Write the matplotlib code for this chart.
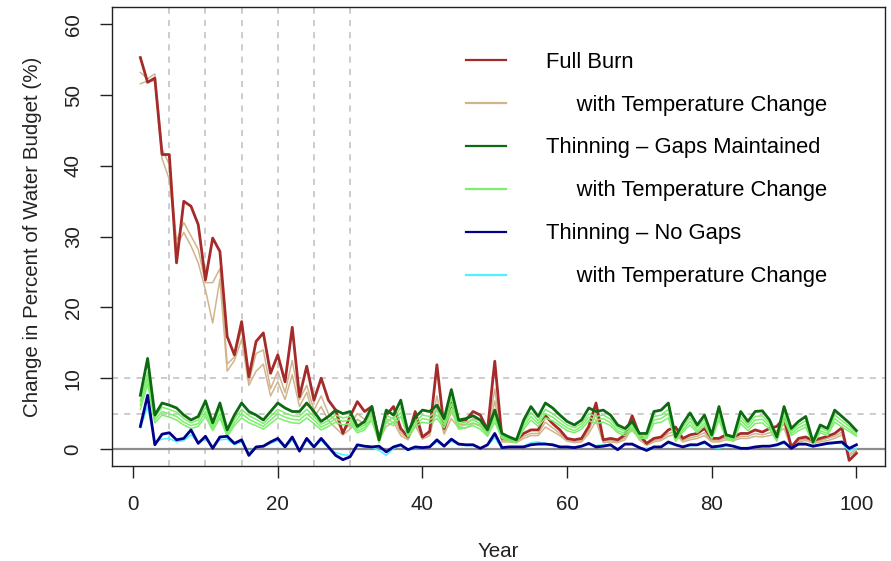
import matplotlib
matplotlib.use("Agg")
import matplotlib.pyplot as plt
from matplotlib.lines import Line2D

plt.rcParams['font.family'] = ['Liberation Sans', 'DejaVu Sans']

# anos simulados
years = list(range(1, 101))

# FULL BURN
full_burn = [55.3, 51.8, 52.4, 41.6, 41.6, 26.3, 35.0, 34.3, 31.7, 23.9,
             29.8, 27.9, 15.9, 13.3, 18.0, 10.2, 15.2, 16.4, 10.7, 13.3,
             9.5, 17.2, 7.4, 11.7, 6.9, 10.0, 6.9, 5.5, 2.2, 4.6,
             6.7, 5.3, 6.0, 1.3, 4.8, 6.0, 2.9, 1.7, 5.3, 1.7,
             2.5, 11.9, 2.9, 6.5, 4.0, 4.1, 5.3, 4.8, 2.7, 12.4,
             1.5, 1.4, 1.3, 2.2, 2.7, 2.7, 4.7, 3.6, 2.7, 1.5,
             1.3, 1.5, 3.2, 6.5, 1.3, 1.5, 1.3, 2.0, 4.7, 2.0,
             0.8, 1.5, 1.7, 2.7, 3.1, 1.5, 2.0, 2.2, 2.9, 1.5,
             1.5, 2.0, 1.7, 2.2, 2.2, 2.7, 2.4, 2.9, 3.2, 4.4,
             0.3, 1.5, 1.7, 1.2, 1.5, 1.8, 2.2, 3.0, -1.6, -0.6]

full_burn_temp1 = [53.2, 52.3, 53.0, 42.4, 40.2, 29.4, 32.0, 30.1, 28.2, 23.5,
                   23.5, 25.5, 12.0, 13.0, 17.0, 9.5, 13.5, 14.0, 8.5, 11.0,
                   8.0, 12.5, 7.0, 9.0, 5.5, 7.5, 5.0, 4.0, 2.5, 3.5,
                   5.0, 4.2, 4.8, 1.5, 3.8, 4.5, 2.3, 1.5, 4.0, 1.6,
                   2.2, 7.5, 2.5, 5.2, 3.5, 3.5, 4.3, 4.0, 2.3, 8.5,
                   1.2, 1.2, 1.0, 1.8, 2.2, 2.2, 3.8, 3.0, 2.2, 1.3,
                   1.0, 1.2, 2.6, 5.0, 1.1, 1.2, 1.0, 1.6, 3.6, 1.6,
                   0.6, 1.2, 1.4, 2.2, 2.5, 1.2, 1.6, 1.8, 2.3, 1.2,
                   1.2, 1.6, 1.4, 1.8, 1.8, 2.2, 2.0, 2.3, 2.6, 3.5,
                   0.3, 1.2, 1.4, 1.0, 1.2, 1.5, 1.8, 2.4, -1.0, -0.3]

full_burn_temp2 = [51.6, 52.0, 52.0, 41.0, 38.1, 28.7, 30.6, 28.7, 26.3, 22.5,
                   17.8, 24.0, 11.0, 12.5, 15.5, 9.0, 11.0, 12.0, 7.5, 9.5,
                   7.0, 10.5, 6.0, 8.0, 4.5, 6.0, 4.0, 3.0, 2.0, 2.8,
                   4.2, 3.5, 4.0, 1.2, 3.2, 3.8, 1.9, 1.3, 3.3, 1.4,
                   1.9, 6.0, 2.1, 4.3, 3.0, 3.0, 3.6, 3.4, 2.0, 6.8,
                   1.0, 1.0, 0.9, 1.5, 1.9, 1.9, 3.1, 2.5, 1.9, 1.1,
                   0.9, 1.0, 2.2, 4.0, 0.9, 1.0, 0.9, 1.3, 3.0, 1.3,
                   0.5, 1.0, 1.2, 1.8, 2.1, 1.0, 1.3, 1.5, 1.9, 1.0,
                   1.0, 1.3, 1.2, 1.5, 1.5, 1.8, 1.7, 1.9, 2.2, 2.9,
                   0.2, 1.0, 1.2, 0.8, 1.0, 1.2, 1.5, 2.0, -0.7, -0.1]

# THINNING - GAPS MAINTAINED
gaps = [7.6, 12.8, 4.8, 6.5, 6.2, 5.8, 4.8, 4.1, 4.6, 6.8,
        3.7, 6.5, 2.7, 4.8, 6.5, 5.3, 4.8, 4.1, 5.3, 6.5,
        5.8, 5.3, 5.3, 6.5, 5.3, 3.9, 4.6, 5.5, 5.0, 5.3,
        3.2, 3.9, 6.0, 1.3, 5.5, 4.8, 6.9, 2.4, 4.5, 5.5,
        5.3, 6.2, 4.3, 8.4, 4.1, 4.3, 4.7, 4.1, 2.7, 5.5,
        2.2, 1.7, 1.3, 4.1, 6.0, 4.6, 6.5, 5.8, 4.8, 3.9,
        3.4, 4.1, 5.8, 5.3, 5.5, 4.8, 3.4, 2.9, 3.9, 2.2,
        2.2, 5.3, 5.5, 6.5, 1.7, 3.6, 5.1, 3.4, 4.8, 2.0,
        6.0, 2.0, 1.7, 5.3, 3.9, 5.3, 5.4, 4.1, 1.7, 6.0,
        2.9, 3.9, 4.6, 1.0, 3.4, 2.9, 5.5, 4.6, 3.7, 2.6]

gaps_temp1 = [6.8, 10.8, 4.5, 5.9, 5.6, 5.2, 4.3, 3.7, 4.1, 5.9,
              3.3, 5.7, 2.4, 4.2, 5.6, 4.7, 4.2, 3.6, 4.6, 5.6,
              5.1, 4.7, 4.6, 5.6, 4.6, 3.5, 4.0, 4.8, 4.4, 4.6,
              2.9, 3.4, 5.2, 1.2, 4.8, 4.2, 5.9, 2.1, 3.9, 4.8,
              4.6, 5.4, 3.8, 7.2, 3.6, 3.8, 4.1, 3.6, 2.4, 4.8,
              1.9, 1.5, 1.2, 3.6, 5.2, 4.0, 5.6, 5.0, 4.2, 3.4,
              3.0, 3.6, 5.0, 4.6, 4.8, 4.2, 3.0, 2.5, 3.4, 1.9,
              1.9, 4.6, 4.8, 5.6, 1.5, 3.1, 4.4, 3.0, 4.2, 1.8,
              5.2, 1.8, 1.5, 4.6, 3.4, 4.6, 4.7, 3.6, 1.5, 5.2,
              2.5, 3.4, 4.0, 0.9, 3.0, 2.5, 4.8, 4.0, 3.2, 2.3]

gaps_temp2 = [6.2, 10.0, 4.1, 5.3, 5.0, 4.6, 3.8, 3.3, 3.6, 5.2,
              2.9, 5.0, 2.1, 3.7, 5.0, 4.2, 3.7, 3.2, 4.1, 5.0,
              4.5, 4.2, 4.1, 5.0, 4.1, 3.1, 3.6, 4.3, 3.9, 4.1,
              2.6, 3.0, 4.6, 1.0, 4.3, 3.7, 5.2, 1.9, 3.5, 4.3,
              4.1, 4.8, 3.4, 6.4, 3.2, 3.4, 3.7, 3.2, 2.1, 4.3,
              1.7, 1.3, 1.0, 3.2, 4.6, 3.6, 5.0, 4.5, 3.7, 3.0,
              2.6, 3.2, 4.5, 4.1, 4.3, 3.7, 2.6, 2.2, 3.0, 1.7,
              1.7, 4.1, 4.3, 5.0, 1.3, 2.7, 3.9, 2.6, 3.7, 1.6,
              4.6, 1.6, 1.3, 4.1, 3.0, 4.1, 4.2, 3.2, 1.3, 4.6,
              2.2, 3.0, 3.5, 0.8, 2.6, 2.2, 4.3, 3.5, 2.8, 2.0]

gaps_temp3 = [5.6, 9.2, 3.7, 4.8, 4.5, 4.1, 3.4, 2.9, 3.2, 4.6,
              2.6, 4.4, 1.8, 3.3, 4.4, 3.7, 3.3, 2.8, 3.6, 4.4,
              4.0, 3.7, 3.6, 4.4, 3.6, 2.7, 3.2, 3.8, 3.4, 3.6,
              2.3, 2.7, 4.1, 0.9, 3.8, 3.3, 4.6, 1.7, 3.1, 3.8,
              3.6, 4.3, 3.0, 5.6, 2.8, 3.0, 3.3, 2.8, 1.8, 3.8,
              1.5, 1.1, 0.9, 2.8, 4.1, 3.2, 4.4, 4.0, 3.3, 2.6,
              2.3, 2.8, 4.0, 3.6, 3.8, 3.3, 2.3, 1.9, 2.6, 1.5,
              1.5, 3.6, 3.8, 4.4, 1.1, 2.4, 3.4, 2.3, 3.3, 1.4,
              4.1, 1.4, 1.1, 3.6, 2.6, 3.6, 3.7, 2.8, 1.1, 4.1,
              1.9, 2.6, 3.1, 0.7, 2.3, 1.9, 3.8, 3.1, 2.5, 1.8]

# THINNING - NO GAPS
nogaps = [3.2, 7.6, 0.6, 2.1, 2.3, 1.3, 1.5, 2.7, 0.8, 1.8,
          0.1, 1.7, 1.8, 0.8, 1.3, -0.9, 0.3, 0.4, 1.0, 1.5,
          0.3, 1.7, -0.3, 1.5, 0.3, 1.5, 0.3, -0.9, -1.5, -1.1,
          0.6, 0.4, 0.3, 0.4, -0.4, 0.3, 0.6, -0.1, 0.3, 0.2,
          0.3, 1.3, 0.4, 1.4, 0.7, 0.6, 0.6, 0.1, 0.6, 2.2,
          0.2, 0.3, 0.3, 0.3, 0.6, 0.7, 0.7, 0.6, 0.3, 0.3,
          0.2, 0.4, 0.8, 0.3, 0.4, 0.6, -0.1, 0.7, 0.7, 0.2,
          -0.2, 0.3, 0.3, 1.0, 0.6, 0.3, 0.6, 0.6, 1.0, 0.3,
          0.4, 0.6, 0.4, 0.1, 0.1, 0.3, 0.4, 0.4, 0.6, 1.0,
          0.1, 0.7, 0.7, 0.4, 0.6, 0.8, 0.9, 1.0, 0.1, 0.6]

nogaps_temp = [3.0, 6.0, 1.0, 1.4, 1.5, 1.0, 1.2, 2.0, 0.9, 1.4,
               0.3, 1.3, 1.4, 0.6, 1.0, -0.5, 0.3, 0.3, 0.8, 1.2,
               0.2, 1.3, -0.2, 1.2, 0.2, 1.2, 0.2, -0.5, -0.8, -0.9,
               0.5, 0.3, 0.2, -0.2, -0.9, 0.1, 0.5, -0.2, 0.2, 0.2,
               0.3, 1.0, 0.4, 1.1, 0.6, 0.5, 0.5, 0.1, 0.5, 1.6,
               0.1, 0.3, 0.3, 0.4, 0.9, 1.0, 0.8, 0.5, 0.3, 0.3,
               0.3, 0.4, 0.6, 0.5, 0.6, 0.5, 0.1, 0.6, 0.6, 0.2,
               0.1, 0.2, 0.3, 0.8, 0.5, 0.3, 0.5, 0.5, 0.8, 0.3,
               0.1, 0.5, 0.4, 0.2, 0.1, 0.3, 0.4, 0.4, 0.5, 0.8,
               0.2, 0.6, 0.6, 0.3, 0.5, 0.7, 0.8, 0.8, -0.3, 0.1]

legend_labels = ["Full Burn", "     with Temperature Change",
                 "Thinning \u2013 Gaps Maintained", "     with Temperature Change",
                 "Thinning \u2013 No Gaps", "     with Temperature Change"]
cores = ["#A52A2A", "#D2B48C", "#0E6A12", "#7CEE6C", "#00008B", "#4FF0FF"]

fs_leg = 15.8
fs_tick = 14.8
fs_lab = 14.8

fig = plt.figure(figsize=(8.91, 5.61), dpi=100)
ax = fig.add_axes([0.1254, 0.1693, 0.8679, 0.8177])

# linhas de referencia
for v in [5, 10, 15, 20, 25, 30]:
    ax.axvline(v, color="#BEBEBE", lw=1.1, dashes=(4, 4), zorder=1)
for h in [5, 10]:
    ax.axhline(h, color="#BEBEBE", lw=1.1, dashes=(4, 4), zorder=1)
ax.axhline(0, color="#8C8C8C", lw=1.6, zorder=1)

# TEMPERATURA (linhas finas) e cenarios principais
ax.plot(years, full_burn_temp1, color=cores[1], lw=1.1, zorder=2)
ax.plot(years, full_burn_temp2, color=cores[1], lw=1.1, zorder=2)
ax.plot(years, full_burn, color=cores[0], lw=2.0, zorder=3)
ax.plot(years, gaps_temp1, color=cores[3], lw=1.1, zorder=4)
ax.plot(years, gaps_temp2, color=cores[3], lw=1.1, zorder=4)
ax.plot(years, gaps_temp3, color=cores[3], lw=1.1, zorder=4)
ax.plot(years, gaps, color=cores[2], lw=2.0, zorder=5)
ax.plot(years, nogaps_temp, color=cores[5], lw=1.1, zorder=6)
ax.plot(years, nogaps, color=cores[4], lw=2.0, zorder=7)

ax.set_xlim(1 - 0.04 * 99, 100 + 0.04 * 99)
ax.set_ylim(-2.4, 62.4)
ax.set_xticks([0, 20, 40, 60, 80, 100])
ax.set_yticks([0, 10, 20, 30, 40, 50, 60])
ax.tick_params(direction="out", length=8.4, width=1, pad=12.5, labelsize=fs_tick, colors="#222222")
for lab in ax.get_yticklabels():
    lab.set_rotation(90)
    lab.set_va("center")
for s in ax.spines.values():
    s.set_linewidth(1)
    s.set_color("#222222")

ax.set_xlabel("Year", fontsize=fs_lab, labelpad=20, color="#222222")
ax.set_ylabel("Change in Percent of Water Budget (%)", fontsize=fs_lab, labelpad=15.5, color="#222222")

handles = [Line2D([], [], color=c, lw=1.6) for c in cores]
ax.legend(handles, legend_labels, loc="upper left", bbox_to_anchor=(0.458, 0.9035),
          frameon=False, fontsize=fs_leg, handlelength=1.82, handletextpad=1.82,
          labelspacing=1.0, borderpad=0, borderaxespad=0)

fig.savefig("out.png", dpi=100)
